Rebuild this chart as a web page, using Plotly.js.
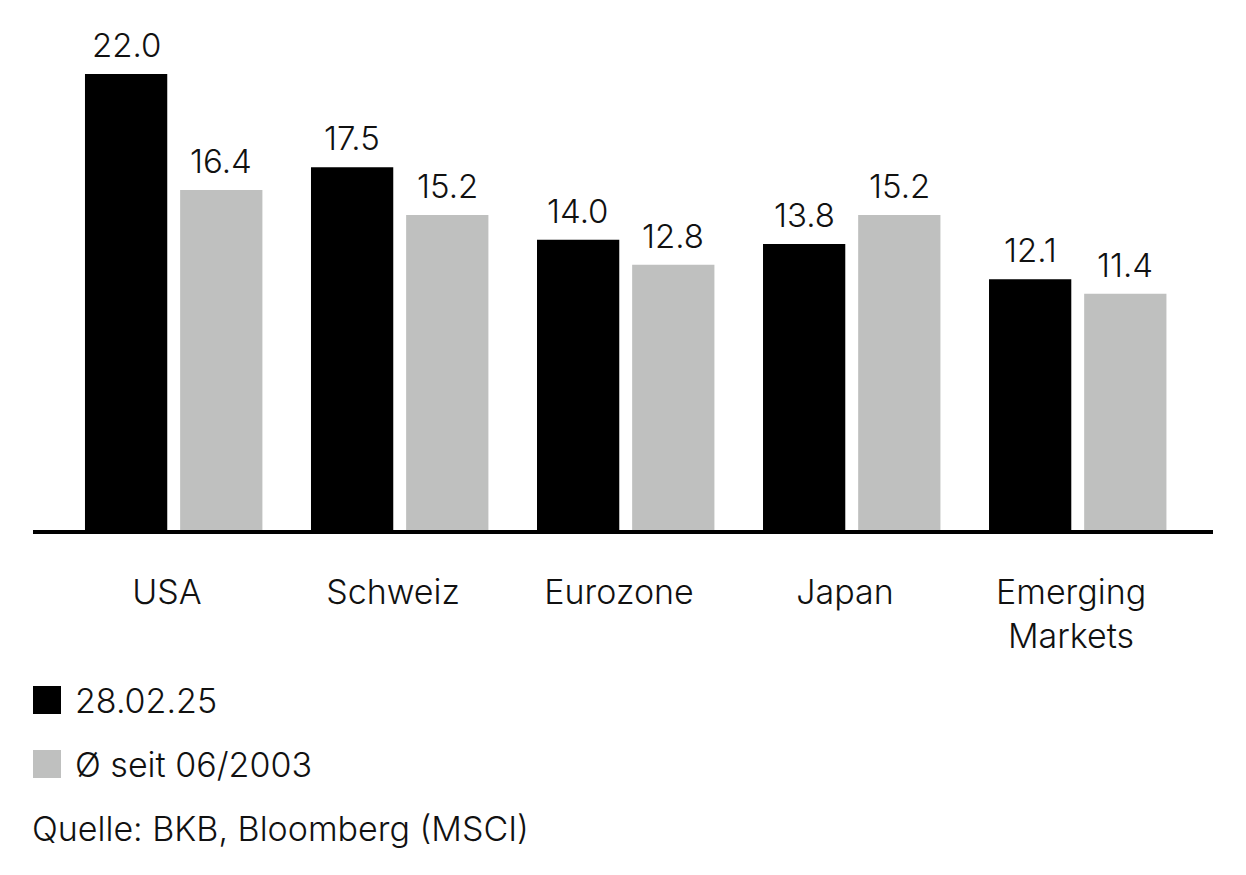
<!DOCTYPE html>
<html>
<head>
<meta charset="utf-8">
<script src="https://cdn.plot.ly/plotly-3.0.1.min.js"></script>
<style>
  html, body { margin: 0; padding: 0; background: #ffffff; }
  #chart { width: 1246px; height: 875px; }
</style>
</head>
<body>
<div id="chart"></div>
<script>
// ---- Data ----
const categories = ["USA", "Schweiz", "Eurozone", "Japan", "Emerging<br>Markets"];
const seriesNames = ["28.02.25", "Ø seit 06/2003"];
const valuesCurrent = [22.0, 17.5, 14.0, 13.8, 12.1];
const valuesAverage = [16.4, 15.2, 12.8, 15.2, 11.4];
const sourceText = "Quelle: BKB, Bloomberg (MSCI)";

// ---- Styling ----
const FONT = "Inter, 'Liberation Sans', Arial, sans-serif";
const W = 300;
const colors = ["#000000", "#bfc0bf"];
const barWidth = 0.364;
const offsets = [-0.394, 0.027];

const xIdx = categories.map((c, i) => i);

const traces = [valuesCurrent, valuesAverage].map((vals, k) => ({
  type: "bar",
  x: xIdx,
  y: vals,
  name: seriesNames[k],
  width: barWidth,
  offset: offsets[k],
  marker: { color: colors[k], line: { width: 0 } },
  hoverinfo: "skip",
  showlegend: false
}));

const annotations = [];
[valuesCurrent, valuesAverage].forEach((vals, k) => {
  vals.forEach((v, i) => {
    annotations.push({
      xref: "x", yref: "y",
      x: i + offsets[k] + barWidth / 2,
      y: v,
      text: v.toFixed(1),
      showarrow: false,
      xanchor: "center", yanchor: "bottom",
      yshift: 7,
      font: { family: FONT, size: 33, color: "#111111", weight: W }
    });
  });
});

// Legend (drawn as shapes + text in paper coordinates)
const px2x = px => (px - 33) / 1180;
const py2y = py => (530 - py) / 500;
const shapes = [];
const legendRows = [700, 764];
seriesNames.forEach((name, k) => {
  const cy = legendRows[k];
  shapes.push({
    type: "rect", xref: "paper", yref: "paper",
    x0: px2x(33), x1: px2x(61),
    y0: py2y(cy - 14), y1: py2y(cy + 14),
    fillcolor: colors[k], line: { width: 0 }
  });
  annotations.push({
    xref: "paper", yref: "paper",
    x: px2x(73), y: py2y(cy),
    xanchor: "left", yanchor: "middle",
    text: name, showarrow: false,
    font: { family: FONT, size: 34, color: "#111111", weight: W }
  });
});
annotations.push({
  xref: "paper", yref: "paper",
  x: px2x(30), y: py2y(828),
  xanchor: "left", yanchor: "middle",
  text: sourceText, showarrow: false,
  font: { family: FONT, size: 34, color: "#111111", weight: W }
});

const layout = {
  width: 1246, height: 875,
  margin: { l: 33, r: 33, t: 30, b: 345 },
  paper_bgcolor: "#ffffff", plot_bgcolor: "#ffffff",
  showlegend: false,
  xaxis: {
    range: [-0.624, 4.597],
    tickmode: "array",
    tickvals: xIdx,
    ticktext: categories,
    showgrid: false, zeroline: false,
    showline: true, linecolor: "#000000", linewidth: 4,
    ticks: "outside", ticklen: 29, tickcolor: "rgba(0,0,0,0)",
    ticklabelshift: -7,
    tickfont: { family: FONT, size: 34, color: "#111111", weight: W },
    fixedrange: true
  },
  yaxis: {
    range: [0, 24.12],
    visible: false,
    showgrid: false, zeroline: false,
    fixedrange: true
  },
  annotations: annotations,
  shapes: shapes
};

Plotly.newPlot("chart", traces, layout, { displayModeBar: false, staticPlot: true });
</script>
</body>
</html>
